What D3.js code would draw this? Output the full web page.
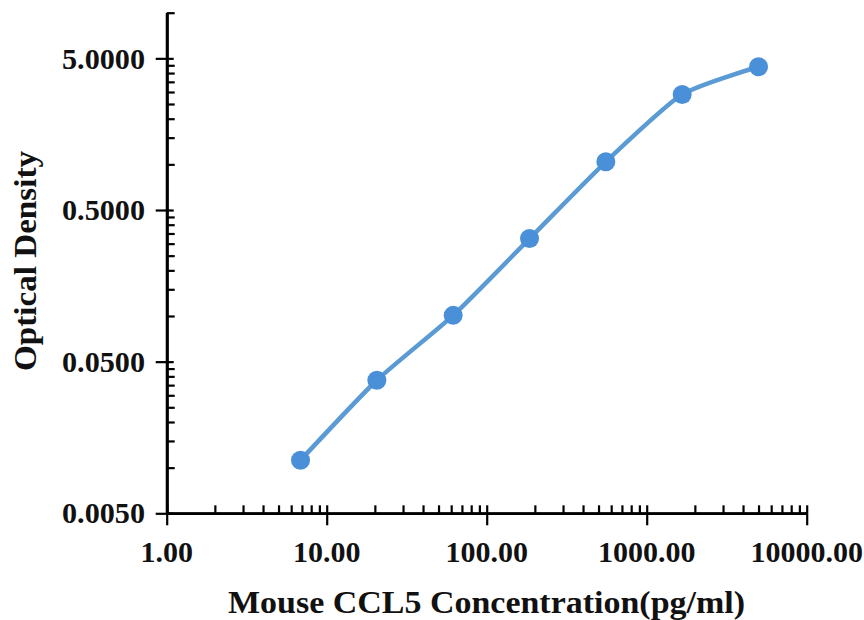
<!DOCTYPE html>
<html>
<head>
<meta charset="utf-8">
<script src="https://cdn.jsdelivr.net/npm/d3@7"></script>
<style>
  html, body { margin: 0; padding: 0; background: #fff; }
  svg { display: block; }
  text { font-family: "Liberation Serif", "Times New Roman", Times, serif; font-weight: bold; fill: #111; }
</style>
</head>
<body>
<svg id="chart" width="864" height="620"></svg>
<script>
// ---- data ----
const concentrations = [6.86, 20.58, 61.73, 185.19, 555.56, 1666.67, 5000];
const opticalDensity = [0.0112, 0.0377, 0.101, 0.324, 1.04, 2.89, 4.40];
const xTickValues = [1, 10, 100, 1000, 10000];
const xTickLabels = ["1.00", "10.00", "100.00", "1000.00", "10000.00"];
const yTickValues = [0.005, 0.05, 0.5, 5];
const yTickLabels = ["0.0050", "0.0500", "0.5000", "5.0000"];
const xTitle = "Mouse CCL5 Concentration(pg/ml)";
const yTitle = "Optical Density";

// ---- layout ----
const svg = d3.select("#chart");
const x = d3.scaleLog().domain([1, 10000]).range([166.7, 806.7]);
const y = d3.scaleLog().domain([0.005, 10]).range([513.3, 12.7]);

const xMinor = [];
for (let d = 1; d < 10000; d *= 10) for (let k = 2; k <= 9; k++) xMinor.push(d * k);
const yMinor = [];
for (let d = 0.005; d < 5; d *= 10) for (let k = 2; k <= 9; k++) yMinor.push(d * k);
yMinor.push(10);

const axisColor = "#000";

// x axis
const gx = svg.append("g").attr("transform", `translate(0,${y(0.005)})`);
gx.append("g").call(d3.axisBottom(x).tickValues(xTickValues).tickSize(12).tickSizeOuter(0).tickFormat(""));
gx.append("g").call(d3.axisTop(x).tickValues(xTickValues).tickSize(8).tickSizeOuter(0).tickFormat(""));
gx.append("g").call(d3.axisTop(x).tickValues(xMinor).tickSize(8).tickSizeOuter(0).tickFormat(""));

// y axis
const gy = svg.append("g").attr("transform", `translate(${x(1)},0)`);
gy.append("g").call(d3.axisLeft(y).tickValues(yTickValues).tickSize(11).tickSizeOuter(0).tickFormat(""));
gy.append("g").call(d3.axisRight(y).tickValues(yTickValues).tickSize(7).tickSizeOuter(0).tickFormat(""));
gy.append("g").call(d3.axisRight(y).tickValues(yMinor).tickSize(8).tickSizeOuter(0).tickFormat(""));

svg.selectAll(".domain").attr("stroke", axisColor).attr("stroke-width", 2.6);
svg.selectAll(".tick line").attr("stroke", axisColor).attr("stroke-width", 2.2);

// tick labels
svg.append("g").selectAll("text").data(yTickValues).join("text")
  .attr("x", 145)
  .attr("y", d => y(d))
  .attr("text-anchor", "end")
  .attr("dy", "0.35em")
  .style("font-size", "29px")
  .attr("textLength", 83).attr("lengthAdjust", "spacingAndGlyphs")
  .text((d, i) => yTickLabels[i]);

svg.append("g").selectAll("text").data(xTickValues).join("text")
  .attr("x", d => x(d))
  .attr("y", 562)
  .attr("text-anchor", "middle")
  .style("font-size", "30px")
  .text((d, i) => xTickLabels[i]);

// titles
svg.append("text")
  .attr("x", 486.5).attr("y", 613)
  .attr("text-anchor", "middle")
  .style("font-size", "31px")
  .attr("textLength", 517).attr("lengthAdjust", "spacingAndGlyphs")
  .text(xTitle);

svg.append("text")
  .attr("transform", "translate(36,261) rotate(-90)")
  .attr("text-anchor", "middle")
  .style("font-size", "31px")
  .attr("textLength", 220).attr("lengthAdjust", "spacingAndGlyphs")
  .text(yTitle);

// series
const pts = concentrations.map((c, i) => [c, opticalDensity[i]]);
const line = d3.line().x(d => x(d[0])).y(d => y(d[1])).curve(d3.curveCardinal.tension(0.4));
svg.append("path")
  .attr("d", line(pts))
  .attr("fill", "none")
  .attr("stroke", "#5b9bd5")
  .attr("stroke-width", 4.5);

svg.append("g").selectAll("circle").data(pts).join("circle")
  .attr("cx", d => x(d[0]))
  .attr("cy", d => y(d[1]))
  .attr("r", 9.5)
  .attr("fill", "#4a90d9");
</script>
</body>
</html>
